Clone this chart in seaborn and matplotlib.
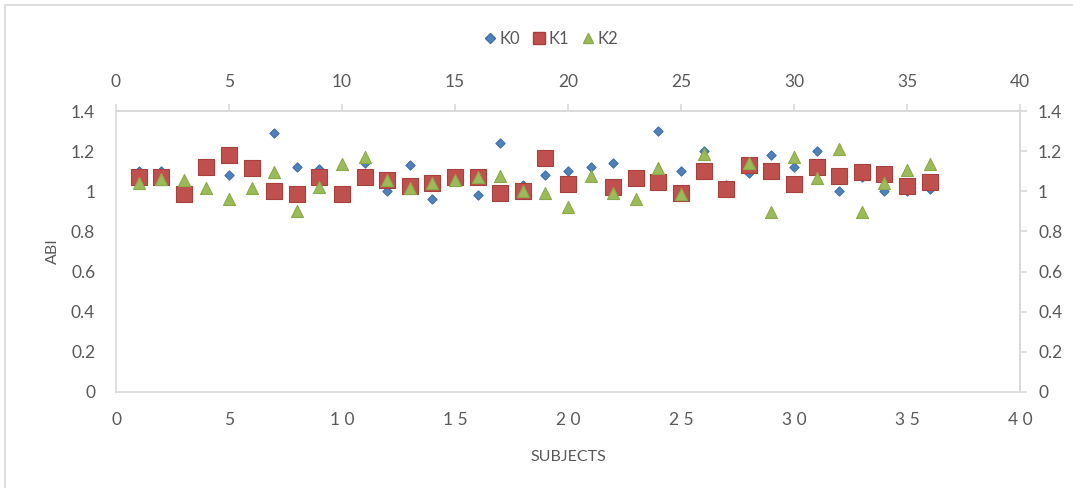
import numpy as np
import pandas as pd
import matplotlib
matplotlib.use("Agg")
import matplotlib.pyplot as plt
from matplotlib.ticker import FuncFormatter
from matplotlib.lines import Line2D
from matplotlib.patches import Rectangle
import seaborn as sns

subjects = list(range(1, 37))
k0 = [1.10, 1.10, 1.03, 1.12, 1.08, 1.12, 1.29, 1.12, 1.11, 1.00,
      1.14, 1.00, 1.13, 0.96, 1.05, 0.98, 1.24, 1.03, 1.08, 1.10,
      1.12, 1.14, 1.07, 1.30, 1.10, 1.20, 1.03, 1.09, 1.18, 1.12,
      1.20, 1.00, 1.07, 1.00, 1.00, 1.01]
k1 = [1.07, 1.07, 0.985, 1.12, 1.18, 1.115, 1.00, 0.985, 1.07, 0.985,
      1.07, 1.055, 1.025, 1.04, 1.07, 1.07, 0.99, 1.00, 1.165, 1.035,
      np.nan, 1.02, 1.065, 1.045, 0.99, 1.10, 1.01, 1.13, 1.10, 1.035,
      1.12, 1.075, 1.095, 1.085, 1.025, 1.045]
k2 = [1.04, 1.06, 1.055, 1.015, 0.96, 1.015, 1.095, 0.90, 1.02, 1.135,
      1.17, 1.055, 1.015, 1.04, 1.055, 1.07, 1.075, 1.00, 0.99, 0.92,
      1.075, 0.99, 0.96, 1.115, 0.985, 1.185, np.nan, 1.14, 0.895, 1.17,
      1.065, 1.21, 0.895, 1.04, 1.105, 1.135]
series_names = ["K0", "K1", "K2"]
x_ticks = [0, 5, 10, 15, 20, 25, 30, 35, 40]
y_ticks = [0, 0.2, 0.4, 0.6, 0.8, 1.0, 1.2, 1.4]

df = pd.DataFrame({"SUBJECTS": subjects * 3,
                   "ABI": k0 + k1 + k2,
                   "series": sum([[n] * len(subjects) for n in series_names], [])})

sns.set_theme(style="white")
plt.rcParams["font.family"] = ["Lato", "DejaVu Sans"]
txt = "#595959"
axc = "#D9D9D9"
lsz = 12.5

fig = plt.figure(figsize=(10.73, 4.88), dpi=100)
ax = fig.add_axes([116/1073, 1-392/488, (1020-116)/1073, (392-111)/488])

colors = {"K0": "#4F81BD", "K1": "#C0504D", "K2": "#9BBB59"}
edges = {"K0": "#3F6FA8", "K1": "#A5403D", "K2": "#8AAA4A"}
markers = {"K0": "D", "K1": "s", "K2": "^"}
sizes = {"K0": 22, "K1": 125, "K2": 75}
for i, n in enumerate(series_names):
    sub = df[df["series"] == n]
    sns.scatterplot(data=sub, x="SUBJECTS", y="ABI", ax=ax, marker=markers[n],
                    s=sizes[n], color=colors[n], edgecolor=edges[n], linewidth=0.8,
                    zorder=3 + i, legend=False)

ax.set_xlim(0, 40)
ax.set_ylim(0, 1.4)
ax.set_xticks(x_ticks)
ax.set_yticks(y_ticks)
fmt = FuncFormatter(lambda v, p: "%g" % round(v, 2))
ax.yaxis.set_major_formatter(fmt)
ax.xaxis.set_major_formatter(FuncFormatter(lambda v, p: " ".join(str(int(v)))))
for s in ax.spines.values():
    s.set_color(axc)
    s.set_linewidth(1.2)
ax.tick_params(axis="both", colors=axc, labelcolor=txt, labelsize=lsz, length=5, width=1.2)
ax.tick_params(axis="x", direction="inout", pad=12)
ax.tick_params(axis="y", direction="out", pad=10)
ax.set_xlabel("SUBJECTS", color=txt, fontsize=11.5, labelpad=16)
ax.set_ylabel("ABI", color=txt, fontsize=11.5, labelpad=8)

secx = ax.secondary_xaxis("top")
secx.set_xticks(x_ticks)
secx.xaxis.set_major_formatter(FuncFormatter(lambda v, p: "%d" % v))
secx.tick_params(colors=axc, labelcolor=txt, labelsize=lsz, length=5, width=1.2, pad=10)
secx.spines["top"].set_color(axc)

secy = ax.secondary_yaxis("right")
secy.set_yticks(y_ticks)
secy.yaxis.set_major_formatter(fmt)
secy.tick_params(colors=axc, labelcolor=txt, labelsize=lsz, length=5, width=1.2, pad=8)
secy.spines["right"].set_color(axc)

handles = [Line2D([], [], marker=markers[n], linestyle="", color=colors[n],
                  markeredgecolor=edges[n], markersize={"K0": 5, "K1": 9, "K2": 7}[n],
                  label=n) for n in series_names]
leg = fig.legend(handles=handles, loc="center", bbox_to_anchor=(550/1073, 1-39/488),
                 ncol=3, frameon=False, fontsize=12, handletextpad=0.1,
                 columnspacing=0.6, handlelength=1.0)
for t in leg.get_texts():
    t.set_color(txt)

fig.patches.append(Rectangle((5/1073, -0.1), 1.2, 1 - 5/488 + 0.1, transform=fig.transFigure,
                             fill=False, edgecolor=axc, linewidth=1.2))

fig.savefig("out.png", dpi=100)
